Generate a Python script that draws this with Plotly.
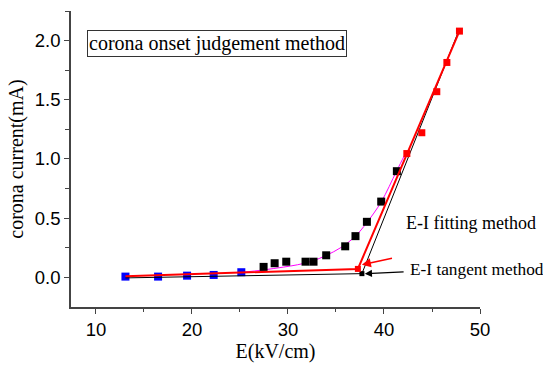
import plotly.graph_objects as go

# Measured corona current vs. field strength
E_low = [13.07, 16.47, 19.49, 22.26, 25.14]
I_low = [0.005, 0.005, 0.013, 0.019, 0.042]

E_mid = [27.46, 28.61, 29.82, 31.83, 32.66, 33.98, 35.96, 37.03, 38.22, 39.71, 41.34]
I_mid = [0.087, 0.118, 0.131, 0.131, 0.131, 0.185, 0.261, 0.347, 0.468, 0.639, 0.896]

E_high = [42.38, 43.94, 45.50, 46.55, 47.86]
I_high = [1.045, 1.221, 1.568, 1.815, 2.080]

# Fitted E-I curve
E_fit = [25.1, 27.5, 29.5, 31.0, 32.5, 34.0, 35.5, 37.0, 38.2, 39.7, 41.3, 42.2]
I_fit = [0.04, 0.062, 0.085, 0.105, 0.135, 0.185, 0.25, 0.345, 0.46, 0.635, 0.895, 1.04]

# Fitting-method straight lines and their intersection
E_fitline = [13.07, 37.28, 47.86]
I_fitline = [0.008, 0.070, 2.080]

# Tangent-method straight lines and their intersection
E_tanline = [13.07, 37.70, 47.70]
I_tanline = [-0.006, 0.030, 2.065]

x_ticks = [10, 20, 30, 40, 50]
y_ticks = [0.0, 0.5, 1.0, 1.5, 2.0]

SERIF = "Liberation Serif, Times New Roman, serif"
SANS = "Liberation Sans, Arial, sans-serif"
AXIS_COL = "#444444"

fig = go.Figure()

fig.add_trace(go.Scatter(x=E_fit, y=I_fit, mode="lines", line=dict(color="#ff00ff", width=1, shape="spline"),
                         showlegend=False, hoverinfo="skip"))
fig.add_trace(go.Scatter(x=E_low, y=I_low, mode="markers",
                         marker=dict(symbol="square", size=8, color="#0000ff"), showlegend=False))
fig.add_trace(go.Scatter(x=E_mid, y=I_mid, mode="markers",
                         marker=dict(symbol="square", size=8, color="#000000"), showlegend=False))
fig.add_trace(go.Scatter(x=E_tanline, y=I_tanline, mode="lines", line=dict(color="#000000", width=1),
                         showlegend=False))
fig.add_trace(go.Scatter(x=[E_tanline[1]], y=[I_tanline[1]], mode="markers",
                         marker=dict(symbol="square", size=5, color="#000000"), showlegend=False))
fig.add_trace(go.Scatter(x=E_fitline, y=I_fitline, mode="lines", line=dict(color="#ff0000", width=2),
                         showlegend=False))
fig.add_trace(go.Scatter(x=[E_fitline[1]], y=[I_fitline[1]], mode="markers",
                         marker=dict(symbol="square", size=6, color="#ff0000"), showlegend=False))
fig.add_trace(go.Scatter(x=E_high, y=I_high, mode="markers",
                         marker=dict(symbol="square", size=7, color="#ff0000"), showlegend=False))

annotations = [
    dict(x=37.7, y=0.106, ax=40.99, ay=0.163, xref="x", yref="y", axref="x", ayref="y",
         text="", showarrow=True, arrowhead=2, arrowsize=1.2, arrowwidth=1.5, arrowcolor="#ff0000", standoff=0),
    dict(x=38.0, y=0.030, ax=42.2, ay=0.045, xref="x", yref="y", axref="x", ayref="y",
         text="", showarrow=True, arrowhead=2, arrowsize=1.2, arrowwidth=1.2, arrowcolor="#000000", standoff=0),
    dict(x=42.05, y=0.456, xref="x", yref="y", text="E-I fitting method", showarrow=False,
         xanchor="left", yanchor="middle", font=dict(family=SERIF, size=18, color="#000000")),
    dict(x=42.55, y=0.064, xref="x", yref="y", text="E-I tangent method", showarrow=False,
         xanchor="left", yanchor="middle", font=dict(family=SERIF, size=17.3, color="#000000")),
    dict(x=9.05, y=1.975, xref="x", yref="y", text="corona onset judgement method", showarrow=False,
         xanchor="left", yanchor="middle", bordercolor="#333333", borderwidth=1, borderpad=1,
         bgcolor="#ffffff", font=dict(family=SERIF, size=20, color="#000000")),
]

fig.update_layout(
    width=543, height=369,
    margin=dict(l=71, r=63, t=11, b=60),
    paper_bgcolor="#ffffff", plot_bgcolor="#ffffff",
    annotations=annotations,
    xaxis=dict(
        range=[7.4, 50], tickvals=x_ticks, ticktext=[str(v) for v in x_ticks],
        showgrid=False, zeroline=False, showline=True, linecolor=AXIS_COL, linewidth=1.5,
        ticks="outside", ticklen=5, tickwidth=1.2, tickcolor=AXIS_COL,
        minor=dict(tickvals=[15, 25, 35, 45], ticks="outside", ticklen=3, tickcolor=AXIS_COL, tickwidth=1),
        tickfont=dict(family=SANS, size=18.5, color="#000000"),
        title=dict(text="E(kV/cm)", font=dict(family=SERIF, size=20, color="#000000"), standoff=4),
    ),
    yaxis=dict(
        range=[-0.252, 2.25], tickvals=y_ticks, ticktext=[f"{v:.1f}" for v in y_ticks],
        showgrid=False, zeroline=False, showline=True, linecolor=AXIS_COL, linewidth=1.5,
        ticks="outside", ticklen=5, tickwidth=1.2, tickcolor=AXIS_COL,
        minor=dict(tickvals=[0.25, 0.75, 1.25, 1.75, 2.25], ticks="outside", ticklen=4,
                   tickcolor=AXIS_COL, tickwidth=1),
        tickfont=dict(family=SANS, size=18.5, color="#000000"),
        title=dict(text="corona current(mA)", font=dict(family=SERIF, size=20, color="#000000"), standoff=6),
    ),
)

fig.write_html("out.html")
